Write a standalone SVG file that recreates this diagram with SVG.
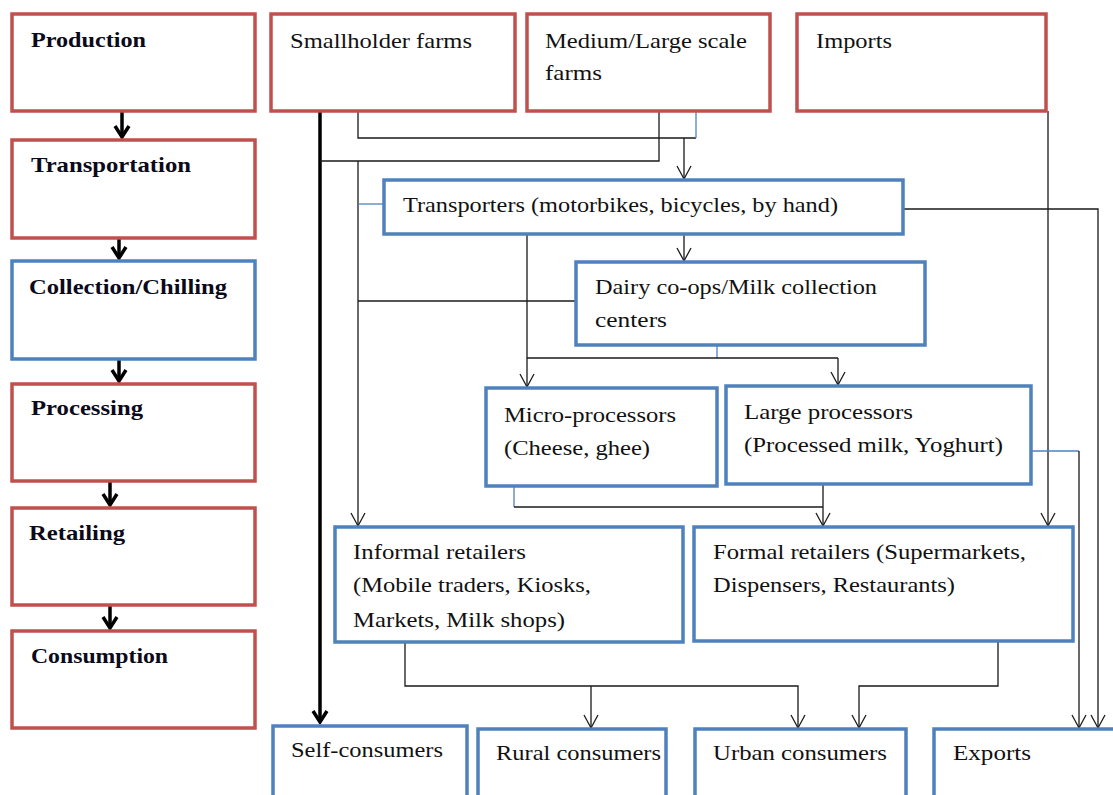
<svg xmlns="http://www.w3.org/2000/svg" width="1113" height="795" viewBox="0 0 1113 795">
<style>
.r{fill:#fff;stroke:#c0504d;stroke-width:3.5}
.b{fill:#fff;stroke:#4f81bd;stroke-width:3.5}
.t{font-family:"Liberation Serif","Times New Roman",serif;font-size:22px;fill:#111}
.h{font-family:"Liberation Serif","Times New Roman",serif;font-size:21.5px;font-weight:bold;fill:#0a0a1a}
.k{fill:none;stroke:#1a1a1a;stroke-width:1.3}
.u{fill:none;stroke:#4f81bd;stroke-width:1.3}
.a{marker-end:url(#ar)}
.th{fill:none;stroke:#000;stroke-width:3.5;marker-end:url(#ta)}
</style>
<defs>
<marker id="ar" markerUnits="userSpaceOnUse" markerWidth="16" markerHeight="16" refX="13" refY="7" orient="auto" overflow="visible">
<path d="M0,0 L13,7 L0,14" fill="none" stroke="#1a1a1a" stroke-width="1.3"/>
</marker>
<marker id="ta" markerUnits="userSpaceOnUse" markerWidth="16" markerHeight="18" refX="12" refY="8" orient="auto" overflow="visible">
<path d="M1,1 L12,8 L1,15" fill="none" stroke="#000" stroke-width="3.5"/>
</marker>
</defs>
<rect width="1113" height="795" fill="#fff"/>

<g id="connectors">
<line class="th" x1="320" y1="111" x2="320" y2="722"/>
<polyline class="k" points="659,111 659,161 320,161"/>
<polyline class="k" points="358,111 358,138 696,138"/>
<line class="u" x1="696" y1="111" x2="696" y2="138"/>
<line class="k a" x1="684" y1="138" x2="684" y2="179"/>
<line class="k a" x1="358" y1="161" x2="358" y2="526"/>
<line class="u" x1="358" y1="204" x2="384" y2="204"/>
<line class="k" x1="358" y1="301" x2="576" y2="301"/>
<line class="k a" x1="527" y1="234" x2="527" y2="387"/>
<line class="k a" x1="684" y1="234" x2="684" y2="261"/>
<line class="u" x1="717" y1="345" x2="717" y2="358"/>
<line class="k" x1="527" y1="358" x2="838" y2="358"/>
<line class="k a" x1="838" y1="358" x2="838" y2="385"/>
<polyline class="u" points="514,486 514,507"/>
<line class="k" x1="514" y1="507" x2="823" y2="507"/>
<line class="k a" x1="823" y1="484" x2="823" y2="526"/>
<line class="k a" x1="1048" y1="111" x2="1048" y2="526"/>
<polyline class="k a" points="903,209 1098,209 1098,728"/>
<line class="u" x1="1031" y1="451" x2="1079" y2="451"/>
<line class="k a" x1="1079" y1="451" x2="1079" y2="728"/>
<polyline class="k a" points="405,642 405,686 798,686 798,728"/>
<line class="k a" x1="591" y1="686" x2="591" y2="728"/>
<polyline class="k a" points="998,641 998,686 859,686 859,728"/>
<line class="th" x1="122" y1="112" x2="122" y2="137"/>
<line class="th" x1="119" y1="239" x2="119" y2="258"/>
<line class="th" x1="119" y1="360" x2="119" y2="381"/>
<line class="th" x1="110" y1="482" x2="110" y2="505"/>
<line class="th" x1="110" y1="606" x2="110" y2="628"/>
</g>

<g id="production"><rect class="r" x="12" y="14" width="243" height="97"/><text class="h" x="31" y="47" textLength="115" lengthAdjust="spacingAndGlyphs">Production</text></g>
<g id="transportation"><rect class="r" x="12" y="140" width="243" height="98"/><text class="h" x="31" y="172" textLength="160" lengthAdjust="spacingAndGlyphs">Transportation</text></g>
<g id="collection"><rect class="b" x="12" y="261" width="243" height="98"/><text class="h" x="29" y="294" textLength="198" lengthAdjust="spacingAndGlyphs">Collection/Chilling</text></g>
<g id="processing"><rect class="r" x="12" y="384" width="243" height="97"/><text class="h" x="31" y="415" textLength="112" lengthAdjust="spacingAndGlyphs">Processing</text></g>
<g id="retailing"><rect class="r" x="12" y="508" width="243" height="97"/><text class="h" x="29" y="540" textLength="96" lengthAdjust="spacingAndGlyphs">Retailing</text></g>
<g id="consumption"><rect class="r" x="12" y="631" width="243" height="97"/><text class="h" x="31" y="663" textLength="137" lengthAdjust="spacingAndGlyphs">Consumption</text></g>

<g id="smallholder"><rect class="r" x="271" y="14" width="244" height="97"/><text class="t" x="290" y="48" textLength="182" lengthAdjust="spacingAndGlyphs">Smallholder farms</text></g>
<g id="medium-large"><rect class="r" x="527" y="14" width="243" height="97"/><text class="t" x="545" y="48" textLength="202" lengthAdjust="spacingAndGlyphs">Medium/Large scale</text><text class="t" x="545" y="80" textLength="57" lengthAdjust="spacingAndGlyphs">farms</text></g>
<g id="imports"><rect class="r" x="797" y="14" width="249" height="97"/><text class="t" x="816" y="48" textLength="76" lengthAdjust="spacingAndGlyphs">Imports</text></g>

<g id="transporters"><rect class="b" x="384" y="180" width="519" height="54"/><text class="t" x="403" y="212" textLength="435" lengthAdjust="spacingAndGlyphs">Transporters (motorbikes, bicycles, by hand)</text></g>
<g id="dairy"><rect class="b" x="576" y="262" width="349" height="83"/><text class="t" x="595" y="294" textLength="282" lengthAdjust="spacingAndGlyphs">Dairy co-ops/Milk collection</text><text class="t" x="595" y="327" textLength="72" lengthAdjust="spacingAndGlyphs">centers</text></g>
<g id="micro"><rect class="b" x="486" y="388" width="231" height="98"/><text class="t" x="504" y="422" textLength="172" lengthAdjust="spacingAndGlyphs">Micro-processors</text><text class="t" x="504" y="455" textLength="146" lengthAdjust="spacingAndGlyphs">(Cheese, ghee)</text></g>
<g id="large"><rect class="b" x="726" y="386" width="305" height="98"/><text class="t" x="744" y="419" textLength="169" lengthAdjust="spacingAndGlyphs">Large processors</text><text class="t" x="744" y="452" textLength="259" lengthAdjust="spacingAndGlyphs">(Processed milk, Yoghurt)</text></g>
<g id="informal"><rect class="b" x="335" y="527" width="348" height="115"/><text class="t" x="353" y="559" textLength="173" lengthAdjust="spacingAndGlyphs">Informal retailers</text><text class="t" x="353" y="592" textLength="238" lengthAdjust="spacingAndGlyphs">(Mobile traders, Kiosks,</text><text class="t" x="353" y="627" textLength="212" lengthAdjust="spacingAndGlyphs">Markets, Milk shops)</text></g>
<g id="formal"><rect class="b" x="694" y="527" width="379" height="114"/><text class="t" x="713" y="559" textLength="313" lengthAdjust="spacingAndGlyphs">Formal retailers (Supermarkets,</text><text class="t" x="713" y="592" textLength="242" lengthAdjust="spacingAndGlyphs">Dispensers, Restaurants)</text></g>

<g id="self"><rect class="b" x="273" y="726" width="194" height="80"/><text class="t" x="291" y="757" textLength="152" lengthAdjust="spacingAndGlyphs">Self-consumers</text></g>
<g id="rural"><rect class="b" x="478" y="729" width="188" height="80"/><text class="t" x="496" y="760" textLength="165" lengthAdjust="spacingAndGlyphs">Rural consumers</text></g>
<g id="urban"><rect class="b" x="695" y="729" width="211" height="80"/><text class="t" x="713" y="760" textLength="174" lengthAdjust="spacingAndGlyphs">Urban consumers</text></g>
<g id="exports"><rect class="b" x="934" y="729" width="200" height="80"/><text class="t" x="953" y="760" textLength="78" lengthAdjust="spacingAndGlyphs">Exports</text></g>
</svg>
